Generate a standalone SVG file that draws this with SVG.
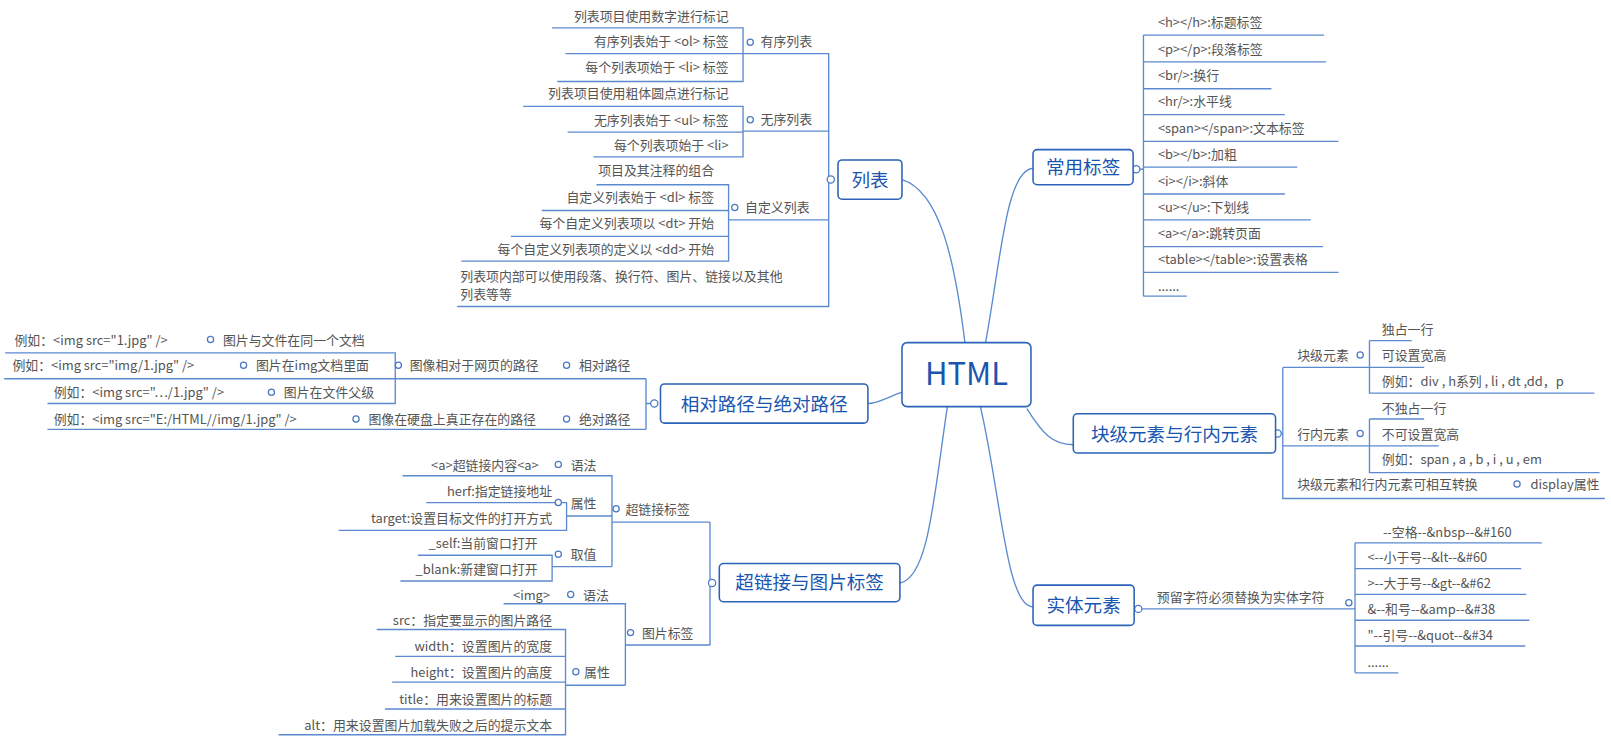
<svg xmlns="http://www.w3.org/2000/svg" width="1611" height="745" viewBox="0 0 1611 745">
<style>
text{font-family:"Noto Sans CJK SC","Liberation Sans",sans-serif;font-size:12.5px;fill:#555}
.e{text-anchor:end}
.n rect{fill:#fff;stroke:#2a63b8;stroke-width:1.5}
.n text{fill:#1a56b0;font-size:18px}
.c path,.c line{fill:none;stroke:#5b8ad0;stroke-width:1.3}
.c circle{fill:#fff;stroke:#4a78c4;stroke-width:1.2}
</style>
<g transform="scale(1.032)">
<g class="c" id="connectors">
<path d="M935 332 C925 250 910 185 874 174"/>
<path d="M955 332 C970 250 975 165 1001 163"/>
<path d="M874 380 C860 385 850 391 841 391"/>
<path d="M918 394 C905 480 900 560 872 565"/>
<path d="M995 396 C1010 420 1020 431 1040 431"/>
<path d="M950 394 C970 480 975 588 1001 588"/>
<path d="M805 174 H803 M720 52 H803 V297 H443 M720 127 H803 M706 213 H803"/>
<path d="M535 27 H720 V79 H540 M548 52 H720"/>
<path d="M507 103 H720 V152 H575 M550 128 H720"/>
<path d="M578 179 H706 V253 H447 M525 204 H706 M495 229 H706"/>
<path d="M1101 164 H1108 M1108 34 V287"/>
<path d="M1108 34 H1283 M1108 60 H1285 M1108 86 H1232 M1108 111 H1245 M1108 137 H1297 M1108 162 H1257 M1108 188 H1245 M1108 213 H1270 M1108 239 H1282 M1108 264 H1297 M1108 287 H1150"/>
<path d="M634 391 H626 M626 367 V416 M4 367 H626 M46 416 H626"/>
<path d="M5 342 H383 V391 H46"/>
<path d="M690 565 H688 M688 506 V625 M593 506 H688 M606 625 H688"/>
<path d="M390 461 H593 V549 M549 500 H593 M535 549 H593"/>
<path d="M413 487 H549 V514 H328"/>
<path d="M405 538 H535 V563 H388"/>
<path d="M488 585 H606 V664 M548 664 H606"/>
<path d="M365 610 H548 V712 H270 M383 636 H548 M380 661 H548 M373 687 H548"/>
<path d="M1238 420 H1243 M1243 356 V483 H1555 M1243 356 H1327 M1243 432 H1327"/>
<path d="M1327 330 H1368 M1327 330 V381 H1545 M1327 356 H1380"/>
<path d="M1327 406 H1380 M1327 406 V458 H1550 M1327 432 H1394"/>
<path d="M1103 590 H1313 M1313 526 V652"/>
<path d="M1313 526 H1494 M1313 551 H1474 M1313 576 H1479 M1313 601 H1482 M1313 626 H1478 M1313 652 H1355"/>
<circle cx="805" cy="174" r="3.5"/><circle cx="727" cy="41" r="3"/><circle cx="727" cy="116" r="3"/><circle cx="712" cy="201" r="3"/>
<circle cx="1101" cy="164" r="3.5"/>
<circle cx="634" cy="391" r="3.5"/><circle cx="549" cy="354" r="3"/><circle cx="386" cy="354" r="3"/><circle cx="204" cy="329" r="3"/><circle cx="236" cy="354" r="3"/><circle cx="263" cy="380" r="3"/><circle cx="549" cy="406" r="3"/><circle cx="345" cy="406" r="3"/>
<circle cx="690" cy="565" r="3.5"/><circle cx="597" cy="493" r="3"/><circle cx="541" cy="450" r="3"/><circle cx="541" cy="487" r="3"/><circle cx="541" cy="537" r="3"/><circle cx="611" cy="613" r="3"/><circle cx="553" cy="576" r="3"/><circle cx="558" cy="651" r="3"/>
<circle cx="1238" cy="420" r="3.5"/><circle cx="1318" cy="344" r="3"/><circle cx="1318" cy="420" r="3"/><circle cx="1470" cy="469" r="3"/>
<circle cx="1103" cy="590" r="3.5"/><circle cx="1307" cy="584" r="3"/>
</g>
<g class="n" id="html"><rect x="874" y="332" width="125" height="62" rx="5"/><text x="936.5" y="373" text-anchor="middle" style="font-size:30px">HTML</text></g>
<g class="n" id="lists"><rect x="812" y="155" width="62" height="38" rx="4"/><text x="843" y="181" text-anchor="middle">列表</text></g>
<g class="n" id="tags"><rect x="1001" y="145" width="97" height="34" rx="4"/><text x="1049.5" y="169" text-anchor="middle">常用标签</text></g>
<g class="n" id="paths"><rect x="640" y="372" width="201" height="38" rx="4"/><text x="740.5" y="398" text-anchor="middle">相对路径与绝对路径</text></g>
<g class="n" id="links"><rect x="697" y="546" width="175" height="37" rx="4"/><text x="784.5" y="571" text-anchor="middle">超链接与图片标签</text></g>
<g class="n" id="block"><rect x="1040" y="401" width="196" height="38" rx="4"/><text x="1138" y="427" text-anchor="middle">块级元素与行内元素</text></g>
<g class="n" id="entity"><rect x="1001" y="567" width="98" height="39" rx="4"/><text x="1050" y="593" text-anchor="middle">实体元素</text></g>
<g id="list-items">
<text x="737" y="45">有序列表</text><text x="737" y="120">无序列表</text><text x="722" y="205">自定义列表</text>
<text class="e" x="706" y="20">列表项目使用数字进行标记</text>
<text class="e" x="706" y="45">有序列表始于 &lt;ol&gt; 标签</text>
<text class="e" x="706" y="70">每个列表项始于 &lt;li&gt; 标签</text>
<text class="e" x="706" y="95">列表项目使用粗体圆点进行标记</text>
<text class="e" x="706" y="121">无序列表始于 &lt;ul&gt; 标签</text>
<text class="e" x="706" y="145">每个列表项始于 &lt;li&gt;</text>
<text class="e" x="692" y="170">项目及其注释的组合</text>
<text class="e" x="692" y="196">自定义列表始于 &lt;dl&gt; 标签</text>
<text class="e" x="692" y="221">每个自定义列表项以 &lt;dt&gt; 开始</text>
<text class="e" x="692" y="246">每个自定义列表项的定义以 &lt;dd&gt; 开始</text>
<text x="446" y="272">列表项内部可以使用段落、换行符、图片、链接以及其他</text>
<text x="446" y="290">列表等等</text>
</g>
<g id="tag-items">
<text x="1122" y="26">&lt;h&gt;&lt;/h&gt;:标题标签</text>
<text x="1122" y="52">&lt;p&gt;&lt;/p&gt;:段落标签</text>
<text x="1122" y="78">&lt;br/&gt;:换行</text>
<text x="1122" y="103">&lt;hr/&gt;:水平线</text>
<text x="1122" y="129">&lt;span&gt;&lt;/span&gt;:文本标签</text>
<text x="1122" y="154">&lt;b&gt;&lt;/b&gt;:加粗</text>
<text x="1122" y="180">&lt;i&gt;&lt;/i&gt;:斜体</text>
<text x="1122" y="205">&lt;u&gt;&lt;/u&gt;:下划线</text>
<text x="1122" y="231">&lt;a&gt;&lt;/a&gt;:跳转页面</text>
<text x="1122" y="256">&lt;table&gt;&lt;/table&gt;:设置表格</text>
<text x="1122" y="282">......</text>
</g>
<g id="path-items">
<text x="14" y="334">例如：&lt;img src="1.jpg" /&gt;</text><text x="216" y="334">图片与文件在同一个文档</text>
<text x="12" y="359">例如：&lt;img src="img/1.jpg" /&gt;</text><text x="248" y="359">图片在img文档里面</text>
<text x="397" y="359">图像相对于网页的路径</text><text x="561" y="359">相对路径</text>
<text x="52" y="385">例如：&lt;img src="…/1.jpg" /&gt;</text><text x="275" y="385">图片在文件父级</text>
<text x="52" y="411">例如：&lt;img src="E:/HTML//img/1.jpg" /&gt;</text><text x="357" y="411">图像在硬盘上真正存在的路径</text><text x="561" y="411">绝对路径</text>
</g>
<g id="link-items">
<text x="606" y="498">超链接标签</text>
<text x="553" y="455">语法</text><text class="e" x="522" y="455">&lt;a&gt;超链接内容&lt;a&gt;</text>
<text x="553" y="492">属性</text><text class="e" x="535" y="481">herf:指定链接地址</text><text class="e" x="535" y="507">target:设置目标文件的打开方式</text>
<text x="553" y="542">取值</text><text class="e" x="521" y="531">_self:当前窗口打开</text><text class="e" x="521" y="556">_blank:新建窗口打开</text>
<text x="622" y="618">图片标签</text>
<text x="565" y="581">语法</text><text class="e" x="533" y="581">&lt;img&gt;</text>
<text x="566" y="656">属性</text>
<text class="e" x="535" y="606">src：指定要显示的图片路径</text>
<text class="e" x="535" y="631">width：设置图片的宽度</text>
<text class="e" x="535" y="656">height：设置图片的高度</text>
<text class="e" x="535" y="682">title：用来设置图片的标题</text>
<text class="e" x="535" y="707">alt：用来设置图片加载失败之后的提示文本</text>
</g>
<g id="block-items">
<text x="1257" y="349">块级元素</text><text x="1257" y="425">行内元素</text>
<text x="1339" y="324">独占一行</text><text x="1339" y="349">可设置宽高</text><text x="1339" y="374">例如：div , h系列 , li , dt ,dd，p</text>
<text x="1339" y="400">不独占一行</text><text x="1339" y="425">不可设置宽高</text><text x="1339" y="450">例如：span , a , b , i , u , em</text>
<text x="1257" y="474">块级元素和行内元素可相互转换</text><text x="1483" y="474">display属性</text>
</g>
<g id="entity-items">
<text x="1121" y="583">预留字符必须替换为实体字符</text>
<text x="1340" y="520">--空格--&amp;nbsp--&amp;#160</text>
<text x="1325" y="545">&lt;--小于号--&amp;lt--&amp;#60</text>
<text x="1325" y="570">&gt;--大于号--&amp;gt--&amp;#62</text>
<text x="1325" y="595">&amp;--和号--&amp;amp--&amp;#38</text>
<text x="1325" y="620">"--引号--&amp;quot--&amp;#34</text>
<text x="1325" y="646">......</text>
</g>
</g>
</svg>
